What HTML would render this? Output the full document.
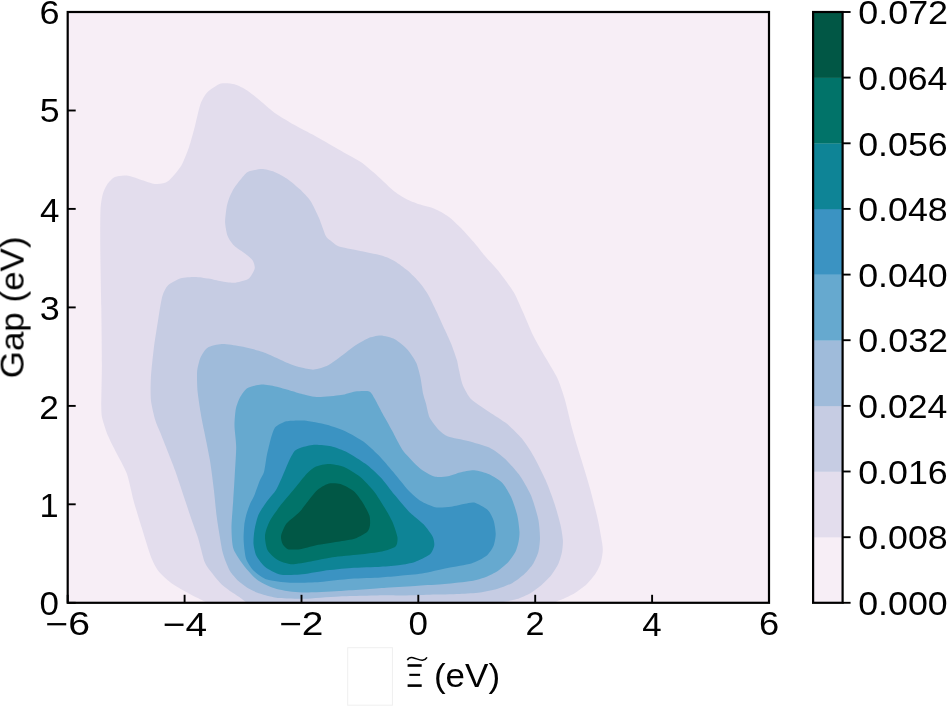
<!DOCTYPE html>
<html><head><meta charset="utf-8"><style>
html,body{margin:0;padding:0;background:#fff;}
svg{display:block;}
text{font-family:"Liberation Sans",sans-serif;font-size:33.2px;fill:#000;}
</style></head><body>
<svg width="947" height="706" viewBox="0 0 947 706">
<rect x="0" y="0" width="947" height="706" fill="#fff"/>
<rect x="67.7" y="12" width="701.3" height="590.8" fill="#f7eef6"/>
<path fill="#e3dded" d="M207.6,603.5C207,602.8 204.4,601.5 202.2,600.3C200,599.1 192.3,595.4 188.8,593.5C185.3,591.6 176.1,586.6 172.6,584.1C169.1,581.6 161.7,575.1 159.2,572C156.7,568.9 153.1,562.4 151.1,557.2C149.1,552 143.7,534.2 141.7,527.6C139.7,521 135.3,507 133.6,500.7C131.9,494.4 128.9,479.4 126.9,473.8C124.9,468.2 118.3,456.7 116.1,452.3C113.9,447.9 109.7,439.9 108.1,436.1C106.5,432.3 103.5,423.2 102.7,420C101.9,416.8 101.4,415.2 101.3,408.6C101.2,402 101.9,375.2 101.9,363.3C101.9,351.4 101.5,319.9 101.3,306.7C101.1,293.5 100.4,261.3 100.3,250C100.2,238.7 100.2,216.5 100.5,210C100.8,203.5 101.9,197.6 102.7,194.6C103.5,191.6 105.6,186.7 107,184.7C108.4,182.7 112.4,178.2 114.9,177.1C117.4,176 123.6,174.9 128.2,175.7C132.8,176.5 150,183.2 154.6,183.9C159.2,184.6 164.8,183.4 167.9,181.3C171,179.2 178.7,169.9 181.2,165.8C183.7,161.7 187.6,151.1 189.2,146.5C190.8,141.9 193.5,131.7 194.8,126.7C196.1,121.7 199,108 200.5,104C202,100 205.2,94.5 207.6,92.1C210,89.7 217.8,84.5 220.9,83.6C224,82.7 231.4,83.4 234.5,84.2C237.6,85 244.2,88.5 247.2,90.4C250.2,92.3 256.9,98 260,100.6C263.1,103.2 270.6,110 274.1,112.5C277.6,115 285.5,119.8 290,122.4C294.5,125 307.1,131.5 312.7,134.6C318.3,137.7 332.6,146.1 338.2,149.3C343.8,152.5 356.2,159 360.8,162.1C365.4,165.2 373.8,172.7 377.8,176.2C381.8,179.7 391.3,189.1 394.8,191.8C398.3,194.5 404.6,198.2 407.6,199.7C410.6,201.2 417.2,203.5 420.3,204.6C423.4,205.7 431.2,207.4 434.5,208.8C437.8,210.2 445.5,214.4 448.6,216.7C451.7,219 458.1,225.1 461.2,228.3C464.3,231.5 472.3,240.4 475.3,243.9C478.3,247.4 483.9,254.8 486.7,258.1C489.5,261.4 496.3,268.2 499.4,272.2C502.5,276.2 510.8,287.3 513.6,292.1C516.4,296.9 521.2,308.2 523.5,313.3C525.8,318.4 530.8,330.7 533.4,336C536,341.3 543.3,353.6 546.1,358.6C548.9,363.6 555.3,373.7 557.5,378.5C559.7,383.3 563.3,394 565,400C566.7,406 570.5,422.8 572.4,429.7C574.3,436.6 579.2,452.6 581.3,459.5C583.4,466.4 588.3,482.3 590.2,489.2C592.1,496.1 596.3,512.7 597.7,518.9C599.1,525.1 601.5,538.9 602.1,542.7C602.7,546.5 602.9,549.3 602.7,551.8C602.5,554.2 601.4,561.1 600.5,563.7C599.6,566.3 596.9,571.6 595.3,574C593.7,576.4 588.8,582.2 586.4,584.4C584,586.6 577.4,591.5 574.6,593.2C571.8,594.9 564.9,598.1 562.8,599.1C560.7,600.1 558.2,600.9 556.9,601.4C555.6,601.9 552.6,603.3 552,603.5Z"/>
<path fill="#c6cce3" d="M247,603.5C246.2,602.2 242.4,599.4 240.5,598C238.6,596.6 233.1,593.2 230.9,591.6C228.7,590 223.4,586.1 221.4,584.2C219.4,582.3 215.4,577.5 213.5,575C211.6,572.5 206.7,566.9 204.9,562.6C203.1,558.3 199.8,543.4 198.2,538.4C196.6,533.4 193.2,524.5 191.5,519.5C189.8,514.5 185.3,500.9 183.4,495.3C181.5,489.7 177.3,476.7 175.3,471.1C173.3,465.5 167.8,451.6 166,447C164.2,442.4 161.3,435.1 160,432C158.7,428.9 156.3,423.7 155.2,420C154.1,416.3 151.4,405.1 150.9,400.1C150.4,395.1 150.6,383.4 150.9,377.5C151.2,371.6 152.9,355.8 153.7,349.2C154.5,342.6 157,326.9 158,320.8C159,314.7 161,300.8 162.2,296.7C163.4,292.6 165.7,287.5 167.9,285.4C170.1,283.3 177.6,279.3 180.7,278.3C183.8,277.3 191.6,276.9 194.8,276.9C198,276.9 205.4,278 208.5,278.5C211.6,279 218.2,280.8 221.2,281.3C224.2,281.8 230.9,283 234,282.8C237.1,282.6 245.7,280.2 247.8,279.2C249.9,278.2 251.2,275.6 252,274.3C252.8,273 254.7,269.5 254.8,267.9C254.9,266.3 253.8,262.1 252.7,260.5C251.6,258.9 247.9,255.8 245.7,254.1C243.5,252.4 236.1,247.7 234,245.6C231.9,243.5 228.6,238.7 227.6,236C226.6,233.3 225.2,225.5 225.1,222.2C225,218.9 226.1,210.4 226.6,207.4C227.1,204.4 228.8,198.9 229.7,196.7C230.6,194.5 232.8,190.2 234,188.2C235.2,186.2 238.8,181.6 240.4,179.7C242,177.8 245.3,173.1 247.8,171.9C250.3,170.7 258.5,169.1 261.6,169.1C264.7,169.1 271.4,170.8 274.4,171.9C277.4,173 284.1,176.7 287.1,178.7C290.1,180.7 297.2,186.7 299.9,189.3C302.6,191.9 308.3,197.7 310.5,201C312.7,204.3 317.2,213.9 319,218C320.8,222.1 324.4,233.2 325.7,235.8C327,238.4 329,239.4 330.5,240.6C332,241.8 335.2,245.1 338.4,246.3C341.6,247.5 353,249.4 358,250.5C363,251.6 377.2,254.3 381.5,255.5C385.8,256.7 391.8,259.4 394.8,261.2C397.8,263 404.7,268.1 407.6,270.6C410.5,273.1 417.1,279.7 419.5,282.5C421.9,285.3 426,291 428,294.4C430,297.8 434.5,307.2 436.5,311.4C438.5,315.6 443.2,326.1 445,330.1C446.8,334.1 450.4,341.9 451.8,345.4C453.2,348.9 456.1,357.3 456.9,360C457.7,362.7 457.9,365.3 458.6,368.2C459.3,371.1 461.3,381.5 462.8,385.2C464.3,388.9 468.4,396.4 471.5,399.5C474.6,402.6 485.1,409.1 489.2,411.9C493.3,414.7 503.2,420.7 507,423.8C510.8,426.9 518.8,434.8 521.9,438.6C525,442.4 531,451.6 533.8,456.5C536.6,461.4 543.3,474.8 545.7,480.3C548.1,485.8 552.9,498.8 554.6,504C556.3,509.2 559.5,520.7 560.5,524.9C561.5,529.1 562.7,536.9 562.9,540C563.1,543.1 562.5,549 562,551.8C561.5,554.6 559.7,560.9 558.4,563.7C557.1,566.5 552.9,573.1 551,575.5C549.1,577.9 544.5,582.3 542.1,584.4C539.7,586.5 533.2,591.5 530.3,593.2C527.4,594.9 520.1,598.1 517,599.1C513.9,600.1 506.3,601.6 503.7,602.1C501.1,602.6 496,603.3 495,603.5Z"/>
<path fill="#9fbbda" d="M246.9,587.4C244.7,586 240.3,582.7 238.4,581C236.5,579.3 232.3,574.5 230.9,572.5C229.5,570.5 227.7,566.5 226.7,564C225.7,561.5 223.3,555.3 222.4,551.3C221.5,547.3 219.4,534.2 218.7,530C218,525.8 217.1,519.7 216.5,515C215.9,510.3 214.6,495.8 213.8,489.3C213,482.8 211,466.4 209.8,459.5C208.6,452.6 205,435.3 203.9,429.8C202.8,424.3 201.2,416.5 200.5,412C199.8,407.5 198,396.3 197.6,391.6C197.2,386.9 196.8,375.8 197.1,371.8C197.4,367.8 199.3,360.4 200.5,357.6C201.7,354.8 205.1,349.3 207.6,347.7C210.1,346.1 217.9,344.3 221.7,344.1C225.5,343.9 235.3,345.4 240.1,346.3C244.9,347.2 257,349.9 262.8,352C268.6,354.1 285.5,362.2 290,364C294.5,365.8 298.5,366.9 301.3,367.6C304.1,368.3 311,369.9 314.1,369.6C317.2,369.3 325.1,366.9 328.2,365.3C331.3,363.7 337.9,358.6 341,356.3C344.1,354 352.1,347.6 355.2,345.5C358.3,343.4 364.9,339.6 367.9,338.4C370.9,337.2 377.6,335.5 380.7,335.6C383.8,335.7 391.7,337.7 394.8,339.3C397.9,340.9 405.1,347 407.6,349.7C410.1,352.4 414.6,359.4 416.1,362.5C417.6,365.6 419.5,373.1 420.3,376.7C421.1,380.3 422.5,390.6 423.1,393.7C423.7,396.8 425,400.2 425.8,403C426.6,405.8 428.2,414.7 429.7,417.8C431.2,420.9 436.5,427.5 438.6,429.7C440.7,431.9 444.6,435.2 448,436.5C451.4,437.8 463.2,439.7 468,441C472.8,442.3 485,445.6 489.2,447.6C493.4,449.6 500.5,454.9 504,458C507.5,461.1 515.8,470 518.9,474.3C522,478.6 528.5,489.9 530.8,495.1C533.1,500.3 537.1,513.9 538.2,518.9C539.3,523.9 540,534.2 540,538C540,541.8 539.2,548.8 538.4,551.8C537.6,554.8 534.8,561.1 533.2,563.7C531.6,566.3 526.8,571.8 524.4,574C522,576.2 515.6,581.2 512.5,582.9C509.4,584.6 501.5,587.7 497.7,588.8C493.9,589.9 484.5,591.9 480,592.5C475.5,593.1 465.4,593.7 459.5,594C453.6,594.3 436.6,594.5 429.7,594.7C422.8,594.9 405.1,595.4 400,595.5C394.9,595.6 392.9,595.2 385.8,595.3C378.7,595.4 348.9,596.1 339.4,596.5C329.9,596.9 310.3,598.6 304.5,598.8C298.7,599 292.4,598.6 289.4,598.5C286.4,598.4 281.3,598.3 278.8,598C276.3,597.7 270.6,596.5 268.1,595.9C265.6,595.3 260,593.7 257.5,592.7C255,591.7 249.1,588.8 246.9,587.4Z"/>
<path fill="#66a9cf" d="M234.5,425.6C234.5,421.1 235.2,411.9 235.9,408.6C236.6,405.3 238.8,399.7 240.1,397.3C241.4,394.9 244.7,389.7 247.2,388.2C249.7,386.7 258.1,384.8 261.4,384.6C264.7,384.4 272.2,385.8 275.5,386.5C278.8,387.2 286.8,389.6 290,390.5C293.2,391.4 299.4,393.4 302.7,394.2C306,395 313.8,397 318.3,397.1C322.8,397.2 336.7,395.8 341,395.1C345.3,394.4 351.9,391.8 355.2,391.4C358.5,391 367,390.5 369.3,391.4C371.6,392.3 373.5,396.7 375,399.3C376.5,401.9 380.5,409.9 382.5,413.5C384.5,417.1 390.2,427.2 392,430.5C393.8,433.8 396.6,439.5 398,442C399.4,444.5 401.5,449 404,452C406.5,455 416,465.1 419.5,468C423,470.9 431,475.6 434.3,476.6C437.6,477.6 445,476.8 448,476.3C451,475.8 456.9,473.2 460,472.5C463.1,471.8 470.9,470.1 474.3,470.3C477.7,470.5 485.9,472.8 489.2,474.3C492.5,475.8 500,480.4 502.6,483.2C505.2,486 509.8,494.3 511.5,498.1C513.2,501.9 516.5,511.9 517.4,515.9C518.3,519.9 519.4,529 519.5,532C519.6,535 519,539.7 518.5,542C518,544.3 516.7,549.4 515.5,551.8C514.3,554.2 510.2,560 508.1,562.2C506,564.4 500.3,569.3 497.7,571C495.1,572.7 489,575.8 485.9,577C482.8,578.2 476.1,580.2 471.3,581C466.5,581.8 450.8,583.5 444.6,584C438.4,584.5 424.8,585.3 418,585.7C411.2,586.1 395.2,587.1 386,587.7C376.8,588.3 348.8,590.4 339,591C329.2,591.6 309.3,592.7 302,592.5C294.7,592.3 281.8,590.4 276.7,589C271.6,587.6 261.9,583.1 258.1,580.5C254.3,577.9 247.4,570.2 244.5,566.5C241.6,562.8 235,553.6 233.5,549.1C232,544.6 231.5,533.2 231.5,527.6C231.5,522 232.8,507 233.2,500.7C233.6,494.4 234.5,480.1 234.8,473.8C235.2,467.5 236.2,452.5 236.2,446.9C236.2,441.3 234.5,430.1 234.5,425.6Z"/>
<path fill="#3b93c2" d="M268.5,448C269.1,445.7 270.5,439.4 271.3,437C272.1,434.6 273.7,428.8 275.5,427C277.3,425.2 283.2,422 286.5,421.3C289.8,420.6 299.5,420.2 304.2,420.6C308.9,421 321.8,423.5 326.8,424.8C331.8,426.1 342.4,429.9 346.7,431.9C351,433.9 360.1,439.2 363.7,441.8C367.3,444.4 374.8,451.6 377.8,454.6C380.8,457.6 386.5,464.2 389.2,467.3C391.9,470.4 398.7,478.7 401,481.5C403.3,484.3 406.7,488.7 409,491C411.3,493.3 417.8,499.2 420.8,501.1C423.8,503 431.5,506.5 435,507.2C438.5,507.9 447.5,507.1 451,506.7C454.5,506.3 462.3,504.3 465,503.8C467.7,503.3 471.7,501.9 474.3,502.6C476.9,503.3 485.4,507.9 487.7,510C490,512.1 492.7,517.6 493.6,520.4C494.5,523.2 495.7,530.8 495.7,533.8C495.7,536.8 494.7,543.1 493.6,545.7C492.5,548.3 488.8,554 486.2,556.1C483.6,558.2 475.8,562.1 471.3,563.5C466.8,564.9 453.4,566.8 447.6,568C441.8,569.2 427.6,572.6 422,573.5C416.4,574.4 404.8,575.3 400,575.8C395.2,576.3 386.4,577.1 380.7,577.5C375,577.9 358.2,578.3 351.1,578.8C344,579.3 327.1,581.5 320,582C312.9,582.5 296.2,583 290,582.7C283.8,582.4 271.3,580.9 267,579.5C262.7,578.1 255.9,572.8 253.5,570.5C251.1,568.2 247.6,562.4 246.5,560C245.4,557.6 244.8,552.6 244.5,550C244.2,547.4 243.6,540.9 243.6,538C243.6,535.1 244,527.8 244.3,525C244.6,522.2 245.8,516.5 246.5,514C247.2,511.6 249.1,506.2 250,504C250.9,501.8 253.4,497.7 254.5,495C255.6,492.3 258.5,483.7 259.6,481C260.7,478.3 263.2,474.8 264,472C264.8,469.2 266,459.8 266.5,457C267,454.2 267.9,450.3 268.5,448Z"/>
<path fill="#0e8496" d="M294.6,451C296,449.5 299,448.2 301.3,447.5C303.6,446.8 310.5,444.9 314,444.7C317.5,444.5 327.1,445.3 331,446.2C334.9,447.1 343.5,450.3 347.5,452.4C351.5,454.5 361.6,460.9 365.5,463.8C369.4,466.7 377.3,473.9 380.7,477.5C384.1,481.1 391.4,491.1 394.5,494.8C397.6,498.5 405,507.2 407,509.5C409,511.8 410,512.6 412,514.4C414,516.1 421.4,521.9 423.8,524.5C426.2,527.1 431.5,534.2 432.7,536.7C433.9,539.2 434.6,543.6 434.2,545.7C433.8,547.8 432,552.7 429.7,554.6C427.4,556.5 418.4,560.8 414.9,562C411.4,563.2 404,564.5 400,565C396,565.5 386.4,566.4 380.7,566.7C375,567.1 357.7,567.5 351.1,568C344.5,568.5 330.2,569.9 324.2,570.7C318.2,571.5 305.2,574.1 300,574.5C294.8,574.9 284.1,575.4 280,574.5C275.9,573.6 267.9,569.2 265.2,567C262.5,564.8 257.9,558.7 256.5,556C255.1,553.3 253.7,546.8 253.5,543.8C253.3,540.8 253.9,533.5 254.5,530C255.1,526.5 257.1,517.7 258.7,514.2C260.3,510.7 266,502.8 268,500C270,497.2 274.2,492.9 276,490C277.8,487.1 281.5,478.5 283,475C284.5,471.5 287.8,463.2 289.2,460.4C290.6,457.6 293.2,452.5 294.6,451Z"/>
<path fill="#017369" d="M306.7,473.8C309.2,471.2 313.4,467.7 316,466.5C318.6,465.3 325.8,463.9 329,463.9C332.2,463.9 339.9,465.3 343.5,466.8C347.1,468.3 356.4,473.9 360,476.8C363.6,479.7 371.1,487.8 374,491.4C376.9,495 382.6,504.4 384.8,508C387,511.6 391,518.6 392.5,522C394,525.4 397,534.2 397.4,537.1C397.8,540 397.3,544.8 395.5,546.5C393.7,548.2 386.2,550.6 382,551.5C377.8,552.4 365,553.9 359.2,554.6C353.4,555.3 337.9,556.5 332.3,557.3C326.7,558.1 315.6,560.7 310.8,561.5C306,562.3 294.9,564.4 291,564.2C287.1,564 279.7,561.2 277,559.5C274.3,557.8 268.9,552.8 267.5,550C266.1,547.2 264.8,538.9 265,535.7C265.2,532.5 267.4,525.7 269.2,522.2C270.9,518.7 277,510 280,506.1C283,502.2 291.5,492.4 294.6,488.6C297.7,484.8 304.2,476.4 306.7,473.8Z"/>
<path fill="#015745" d="M328.2,483.8C331,483 337.4,483.2 340.4,484.1C343.4,485 351.1,489 353.8,491.3C356.5,493.6 361.4,500.6 363.2,503.4C365,506.2 368.6,513.1 369.4,515.6C370.2,518.1 370.2,523.1 370,525C369.8,526.9 369,530.1 367.3,531.7C365.6,533.3 358.7,537.2 355.2,538.4C351.7,539.6 342.3,540.9 337.7,541.7C333.1,542.5 320.5,544.3 316.1,545.2C311.7,546.1 303.3,548.7 300,549.2C296.7,549.7 289.9,549.8 287.9,549.2C285.9,548.6 283.3,545.4 282.5,543.8C281.7,542.2 280.6,538.1 281.1,535.7C281.6,533.3 284.3,526.4 286.5,523.6C288.7,520.8 296.5,515.3 300,511.5C303.5,507.7 312.8,494.5 316.1,491.3C319.4,488.1 325.4,484.6 328.2,483.8Z"/>
<g stroke="#000" stroke-width="1.9" fill="none" stroke-linecap="butt">
<line x1="67.7" y1="602.8" x2="67.7" y2="594.8"/>
<line x1="184.6" y1="602.8" x2="184.6" y2="594.8"/>
<line x1="301.5" y1="602.8" x2="301.5" y2="594.8"/>
<line x1="418.3" y1="602.8" x2="418.3" y2="594.8"/>
<line x1="535.2" y1="602.8" x2="535.2" y2="594.8"/>
<line x1="652.1" y1="602.8" x2="652.1" y2="594.8"/>
<line x1="769" y1="602.8" x2="769" y2="594.8"/>
<line x1="67.7" y1="602.8" x2="75.7" y2="602.8"/>
<line x1="67.7" y1="504.3" x2="75.7" y2="504.3"/>
<line x1="67.7" y1="405.9" x2="75.7" y2="405.9"/>
<line x1="67.7" y1="307.4" x2="75.7" y2="307.4"/>
<line x1="67.7" y1="208.9" x2="75.7" y2="208.9"/>
<line x1="67.7" y1="110.5" x2="75.7" y2="110.5"/>
<line x1="67.7" y1="12" x2="75.7" y2="12"/>
</g>
<g stroke="#000" stroke-width="2.2" fill="none">
<rect x="67.7" y="12" width="701.3" height="590.8"/>
</g>
<rect x="813.1" y="537.2" width="29.5" height="65.9" fill="#f7eef6"/>
<rect x="813.1" y="471.5" width="29.5" height="65.9" fill="#e3dded"/>
<rect x="813.1" y="405.9" width="29.5" height="65.9" fill="#c6cce3"/>
<rect x="813.1" y="340.2" width="29.5" height="65.9" fill="#9fbbda"/>
<rect x="813.1" y="274.6" width="29.5" height="65.9" fill="#66a9cf"/>
<rect x="813.1" y="208.9" width="29.5" height="65.9" fill="#3b93c2"/>
<rect x="813.1" y="143.3" width="29.5" height="65.9" fill="#0e8496"/>
<rect x="813.1" y="77.6" width="29.5" height="65.9" fill="#017369"/>
<rect x="813.1" y="12" width="29.5" height="65.9" fill="#015745"/>
<g stroke="#000" stroke-width="2.2" fill="none">
<rect x="813.1" y="12" width="29.5" height="590.8"/>
</g>
<g stroke="#000" stroke-width="1.9" fill="none">
<line x1="842.6" y1="602.8" x2="850.6" y2="602.8"/>
<line x1="842.6" y1="537.2" x2="850.6" y2="537.2"/>
<line x1="842.6" y1="471.5" x2="850.6" y2="471.5"/>
<line x1="842.6" y1="405.9" x2="850.6" y2="405.9"/>
<line x1="842.6" y1="340.2" x2="850.6" y2="340.2"/>
<line x1="842.6" y1="274.6" x2="850.6" y2="274.6"/>
<line x1="842.6" y1="208.9" x2="850.6" y2="208.9"/>
<line x1="842.6" y1="143.3" x2="850.6" y2="143.3"/>
<line x1="842.6" y1="77.6" x2="850.6" y2="77.6"/>
<line x1="842.6" y1="12" x2="850.6" y2="12"/>
</g>
<g opacity="0.999">
<text style="font-size:32.39px" transform="translate(45.4,635.1) scale(1.211,1)">−6</text>
<text style="font-size:33.82px" transform="translate(162.7,635.7) scale(1.149,1)">−4</text>
<text style="font-size:32.86px" transform="translate(279,635.4) scale(1.185,1)">−2</text>
<text style="font-size:32.39px" transform="translate(408.4,635.1) scale(1.080,1)">0</text>
<text style="font-size:32.86px" transform="translate(525.4,635.4) scale(1.039,1)">2</text>
<text style="font-size:33.82px" transform="translate(642.3,635.7) scale(1.032,1)">4</text>
<text style="font-size:32.39px" transform="translate(758.9,635.1) scale(1.121,1)">6</text>
<text style="font-size:32.96px" transform="translate(39.5,23.5) scale(1.095,1)">6</text>
<text style="font-size:33.14px" transform="translate(39.7,121.8) scale(1.079,1)">5</text>
<text style="font-size:34.12px" transform="translate(40,221.6) scale(1.023,1)">4</text>
<text style="font-size:32.96px" transform="translate(39.7,319.6) scale(1.091,1)">3</text>
<text style="font-size:33.00px" transform="translate(39.3,418.5) scale(1.067,1)">2</text>
<text style="font-size:33.62px" transform="translate(39.5,517.1) scale(1.024,1)">1</text>
<text style="font-size:32.82px" transform="translate(39.5,615.2) scale(1.067,1)">0</text>
<text style="font-size:32.54px" transform="translate(858.2,615) scale(1.100,1)">0.000</text>
<text style="font-size:32.54px" transform="translate(858.2,549.4) scale(1.100,1)">0.008</text>
<text style="font-size:32.54px" transform="translate(858.2,483.7) scale(1.100,1)">0.016</text>
<text style="font-size:32.54px" transform="translate(858.2,418.1) scale(1.095,1)">0.024</text>
<text style="font-size:32.54px" transform="translate(858.2,352.4) scale(1.104,1)">0.032</text>
<text style="font-size:32.54px" transform="translate(858.2,286.8) scale(1.100,1)">0.040</text>
<text style="font-size:32.54px" transform="translate(858.2,221.2) scale(1.100,1)">0.048</text>
<text style="font-size:32.54px" transform="translate(858.2,155.5) scale(1.100,1)">0.056</text>
<text style="font-size:32.54px" transform="translate(858.2,89.9) scale(1.095,1)">0.064</text>
<text style="font-size:32.54px" transform="translate(858.2,24.2) scale(1.104,1)">0.072</text>
</g>
<rect x="347.7" y="647.7" width="44.7" height="57.5" fill="none" stroke="#efefef" stroke-width="1"/>
<g fill="#000"><rect x="407.6" y="664.2" width="14.1" height="2.6"/><rect x="409.3" y="673.8" width="10.8" height="2.1"/><rect x="407.6" y="684.3" width="14.1" height="2.6"/></g>
<path d="M407.3,660.2 C408.6,657.8 410.6,657.2 413,657.7 C416,658.3 419.5,660.5 422.5,660.3 C424.5,660.1 426,659 427,657.3" stroke="#000" stroke-width="1.5" fill="none"/>
<g opacity="0.999">
<text transform="translate(433.9,687.2) scale(1.055,1)">(eV)</text>
<text transform="translate(23.6,378.3) rotate(-90) scale(1.053,1)">Gap (eV)</text>
</g>
</svg>
</body></html>
